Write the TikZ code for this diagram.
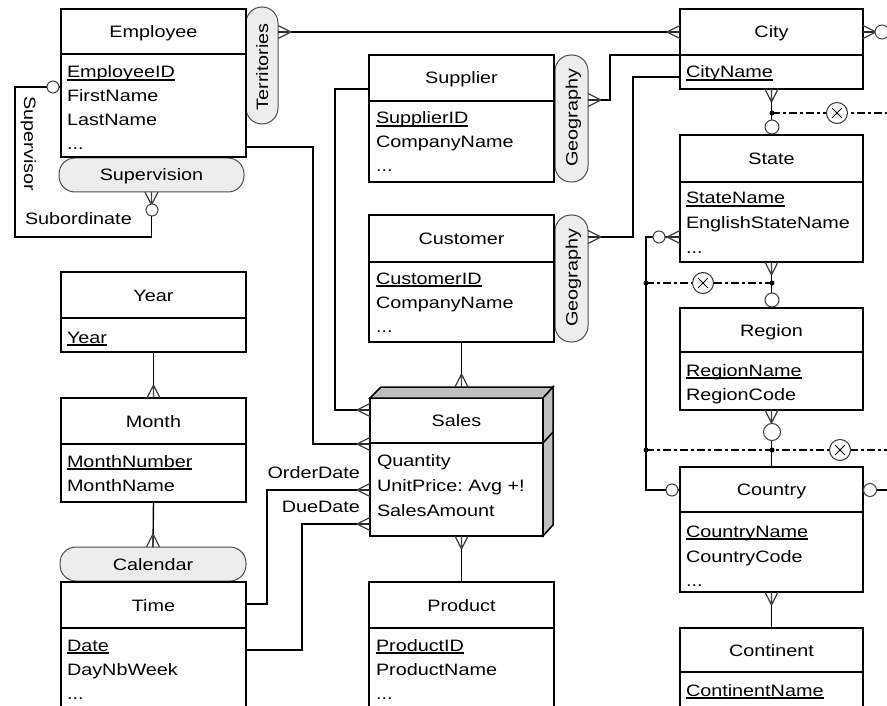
\documentclass[tikz,border=0pt]{standalone}
\usepackage{fontspec}
\setmainfont{Liberation Sans}[FakeStretch=1.2]
\frenchspacing
% underlined key attribute with a fixed underline depth
\newcommand{\keyul}[1]{\setbox0=\hbox{#1}\rlap{\rule[-2.6pt]{\wd0}{1.2pt}}\box0}
% entity box: name, left, top, right, divider, bottom, title
\newcommand{\entity}[7]{%
  \node[ebox, anchor=north west, minimum width={#4-#2}, minimum height={#6-#3}] (#1) at (#2,#3) {};
  \draw[ediv] (#1.west |- #2,#5) -- (#1.east |- #2,#5);
  \node[etitle] (#1-title) at ({(#2+#4)/2},{(#3+#5)/2+6}) {#7};
}
\newcommand{\attr}[4]{\node[eattr] (#1) at (#2,#3) {#4};}
\begin{document}
\begin{tikzpicture}[x=1pt, y=-1pt,
  every node/.style={font=\fontsize{16.5}{20}\selectfont, inner sep=0pt, outer sep=0pt},
  ebox/.style={draw, line width=1.5pt, fill=white, rectangle},
  ediv/.style={line width=1.5pt},
  etitle/.style={anchor=base},
  eattr/.style={anchor=base west},
  pill/.style={draw=black!70, line width=1pt, fill=black!7, rectangle, rounded corners=16pt},
  conn/.style={line width=1.4pt},
  crowln/.style={line width=1.2pt, draw=black!75},
  opt/.style={circle, draw=black!75, line width=1pt, fill=white},
  jdot/.style={circle, fill=black, minimum size=5pt},
  xcirc/.style={circle, draw=black!80, line width=1pt, fill=white, minimum size=21pt},
  excl/.style={line width=1.2pt, dash pattern=on 8pt off 3pt on 3pt off 3pt},
  crow/.pic={\draw[crowln] (-13,0) -- (0,-6.5) (-13,0) -- (0,0) (-13,0) -- (0,6.5);}
]
\useasboundingbox (0,0) rectangle (887,706);
\clip (0,0) rectangle (887,706);
\fill[white] (0,0) rectangle (887,706);

% ---------- pills (hierarchy / role names) ----------
\node[pill, anchor=north west, minimum width=32, minimum height=117] (terr) at (246,7) {};
\node[rotate=90, anchor=base] (terr-t) at (268,67) {Territories};
\node[pill, anchor=north west, minimum width=33, minimum height=127] (geo1) at (555,55) {};
\node[rotate=90, anchor=base] (geo1-t) at (577.5,118) {Geography};
\node[pill, anchor=north west, minimum width=33, minimum height=127] (geo2) at (555,215) {};
\node[rotate=90, anchor=base] (geo2-t) at (577.5,278) {Geography};
\node[pill, anchor=north west, minimum width=185, minimum height=34] (superv) at (59,158) {};
\node[anchor=base] (superv-t) at (151.5,181) {Supervision};
\node[pill, anchor=north west, minimum width=186, minimum height=34] (cal) at (60,547) {};
\node[anchor=base] (cal-t) at (153,570) {Calendar};

% ---------- entities ----------
\entity{emp}{61}{9}{246}{54}{157}{Employee}
\attr{emp-a1}{67}{78}{\keyul{EmployeeID}}
\attr{emp-a2}{67}{102}{FirstName}
\attr{emp-a3}{67}{126}{LastName}
\attr{emp-a4}{67}{150}{...}

\entity{sup}{369}{55}{554}{101}{182}{Supplier}
\attr{sup-a1}{376}{124}{\keyul{SupplierID}}
\attr{sup-a2}{376}{148}{CompanyName}
\attr{sup-a3}{376}{172}{...}

\entity{cus}{369}{215}{554}{262}{342}{Customer}
\attr{cus-a1}{376}{284}{\keyul{CustomerID}}
\attr{cus-a2}{376}{308}{CompanyName}
\attr{cus-a3}{376}{332}{...}

% fact entity drawn as a box with depth
\entity{sales}{370}{398}{543}{443}{536}{Sales}
\draw[ebox, fill=black!25] (sales.north west) -- ++(11,-11) -- ++(172,0) -- (sales.north east) -- cycle;
\draw[ebox, fill=black!25] (sales.north east) -- ++(10,-11) -- ++(0,138) -- (sales.south east) -- cycle;
\draw[ediv] (sales.east |- 0,443) -- ++(10,-11);
\attr{sales-a1}{377}{466}{Quantity}
\attr{sales-a2}{377}{491}{UnitPrice: Avg +!}
\attr{sales-a3}{377}{516}{SalesAmount}

\entity{prod}{369}{582}{554}{628}{720}{Product}
\attr{prod-a1}{376}{651}{\keyul{ProductID}}
\attr{prod-a2}{376}{675}{ProductName}
\attr{prod-a3}{376}{699}{...}

\entity{year}{61}{272}{246}{318}{352}{Year}
\attr{year-a1}{67}{343}{\keyul{Year}}

\entity{month}{61}{398}{246}{444}{502}{Month}
\attr{month-a1}{67}{467}{\keyul{MonthNumber}}
\attr{month-a2}{67}{491}{MonthName}

\entity{time}{61}{582}{246}{628}{720}{Time}
\attr{time-a1}{67}{651}{\keyul{Date}}
\attr{time-a2}{67}{675}{DayNbWeek}
\attr{time-a3}{67}{699}{...}

\entity{city}{680}{9}{863}{55}{89}{City}
\attr{city-a1}{686}{78}{\keyul{CityName}}

\entity{state}{680}{135}{863}{182}{262}{State}
\attr{state-a1}{686}{204}{\keyul{StateName}}
\attr{state-a2}{686}{229}{EnglishStateName}
\attr{state-a3}{686}{253}{...}

\entity{region}{680}{308}{863}{352}{410}{Region}
\attr{region-a1}{686}{376}{\keyul{RegionName}}
\attr{region-a2}{686}{400}{RegionCode}

\entity{country}{680}{467}{863}{512}{592}{Country}
\attr{country-a1}{686}{537}{\keyul{CountryName}}
\attr{country-a2}{686}{562}{CountryCode}
\attr{country-a3}{686}{586}{...}

\entity{cont}{680}{628}{863}{672}{720}{Continent}
\attr{cont-a1}{686}{696}{\keyul{ContinentName}}

% ---------- role labels ----------
\node[rotate=-90, anchor=base] (lbl-sup) at (24,144) {Supervisor};
\node[anchor=base west] (lbl-sub) at (25,225) {Subordinate};
\node[anchor=base east] (lbl-od) at (360,478) {OrderDate};
\node[anchor=base east] (lbl-dd) at (360,512) {DueDate};

% ---------- relationships ----------
\coordinate (sales-top) at ([yshift=11pt]sales.north);
\draw[conn] (terr.east |- 0,32) -- (city.west |- 0,32);
\draw[conn] (geo1.east |- 0,100) -- ++(22,0) |- (city.west |- 0,55);
\draw[conn] (geo2.east |- 0,237) -- ++(45,0) |- (city.west |- 0,77);
\draw[conn] (city.east |- 0,32) -- ++(30,0);
\draw[conn] (city.south) -- (state.north);
\draw[conn] (state.south) -- (region.north);
\draw[conn] (region.south) -- (country.north);
\draw[conn] (country.south) -- (cont.north);
\draw[conn] (state.west |- 0,237) -- ++(-34,0) |- (country.west |- 0,490);
\draw[conn] (country.east |- 0,490) -- ++(30,0);
\draw[conn] (emp.east |- 0,147) -- ++(67,0) |- (sales.west |- 0,444);
\draw[conn] (sup.west |- 0,89) -- ++(-34,0) |- (sales.west |- 0,410);
\draw[conn] (cus.south) -- (cus.south |- sales-top);
\draw[conn] (prod.north |- sales.south) -- (prod.north);
\draw[conn] (time.east |- 0,604) -- ++(21,0) |- (sales.west |- 0,490);
\draw[conn] (time.east |- 0,650) -- ++(56,0) |- (sales.west |- 0,524);
\draw[conn] (year.south) -- (month.north);
\draw[conn] (month.south) -- (cal.north);
\draw[conn] (emp.west |- 0,87) -- ++(-46,0) |- (superv.south |- 0,237) -- (superv.south);

% ---------- exclusion constraints ----------
\coordinate (j1) at (772,113);
\coordinate (x1) at (837,113);
\coordinate (j2) at (646,283);
\coordinate (x2) at (703,283);
\coordinate (j3) at (772,283);
\coordinate (j4) at (646,450);
\coordinate (j5) at (772,450);
\coordinate (x3) at (840,450);
\draw[excl] (j1) -- (x1) -- ++(60,0);
\draw[excl] (j2) -- (x2) -- (j3);
\draw[excl] (j4) -- (j5) -- (x3) -- ++(60,0);

% ---------- cardinality marks ----------
\pic[rotate=180] at (terr.east |- 0,32) {crow};
\pic at (city.west |- 0,32) {crow};
\pic[rotate=180] at (geo1.east |- 0,100) {crow};
\pic[rotate=180] at (geo2.east |- 0,237) {crow};
\pic[rotate=180] at (city.east |- 0,32) {crow};
\pic[rotate=90] at (city.south) {crow};
\pic[rotate=90] at (state.south) {crow};
\pic[rotate=90] at (region.south) {crow};
\pic[rotate=90] at (country.south) {crow};
\pic at (state.west |- 0,237) {crow};
\pic at (sales.west |- 0,444) {crow};
\pic at (sales.west |- 0,410) {crow};
\pic at (sales.west |- 0,490) {crow};
\pic at (sales.west |- 0,524) {crow};
\pic[rotate=-90] at (cus.south |- sales-top) {crow};
\pic[rotate=90] at (prod.north |- sales.south) {crow};
\pic[rotate=-90] at (month.north) {crow};
\pic[rotate=-90] at (cal.north) {crow};
\pic[rotate=90] at (superv.south) {crow};

\node[opt, minimum size=12pt] (o-emp) at (53,87) {};
\node[opt, minimum size=12pt] (o-superv) at (152,210) {};
\node[opt, minimum size=14pt] (o-city) at (882,32) {};
\node[opt, minimum size=14pt] (o-state) at (772,127) {};
\node[opt, minimum size=12pt] (o-statel) at (659,237) {};
\node[opt, minimum size=14pt] (o-region) at (772,300) {};
\node[opt, minimum size=17pt] (o-regionb) at (772,432) {};
\node[opt, minimum size=12pt] (o-country) at (672,490) {};
\node[opt, minimum size=13pt] (o-countryr) at (870,490) {};

\foreach \j in {j1,j2,j3,j4,j5} \node[jdot] (\j-dot) at (\j) {};
\foreach \x in {x1,x2,x3} {
  \node[xcirc] (\x-sym) at (\x) {};
  \draw[line width=1pt, shorten >=3.5pt, shorten <=3.5pt] (\x-sym.45) -- (\x-sym.225);
  \draw[line width=1pt, shorten >=3.5pt, shorten <=3.5pt] (\x-sym.135) -- (\x-sym.315);
}
\end{tikzpicture}
\end{document}
